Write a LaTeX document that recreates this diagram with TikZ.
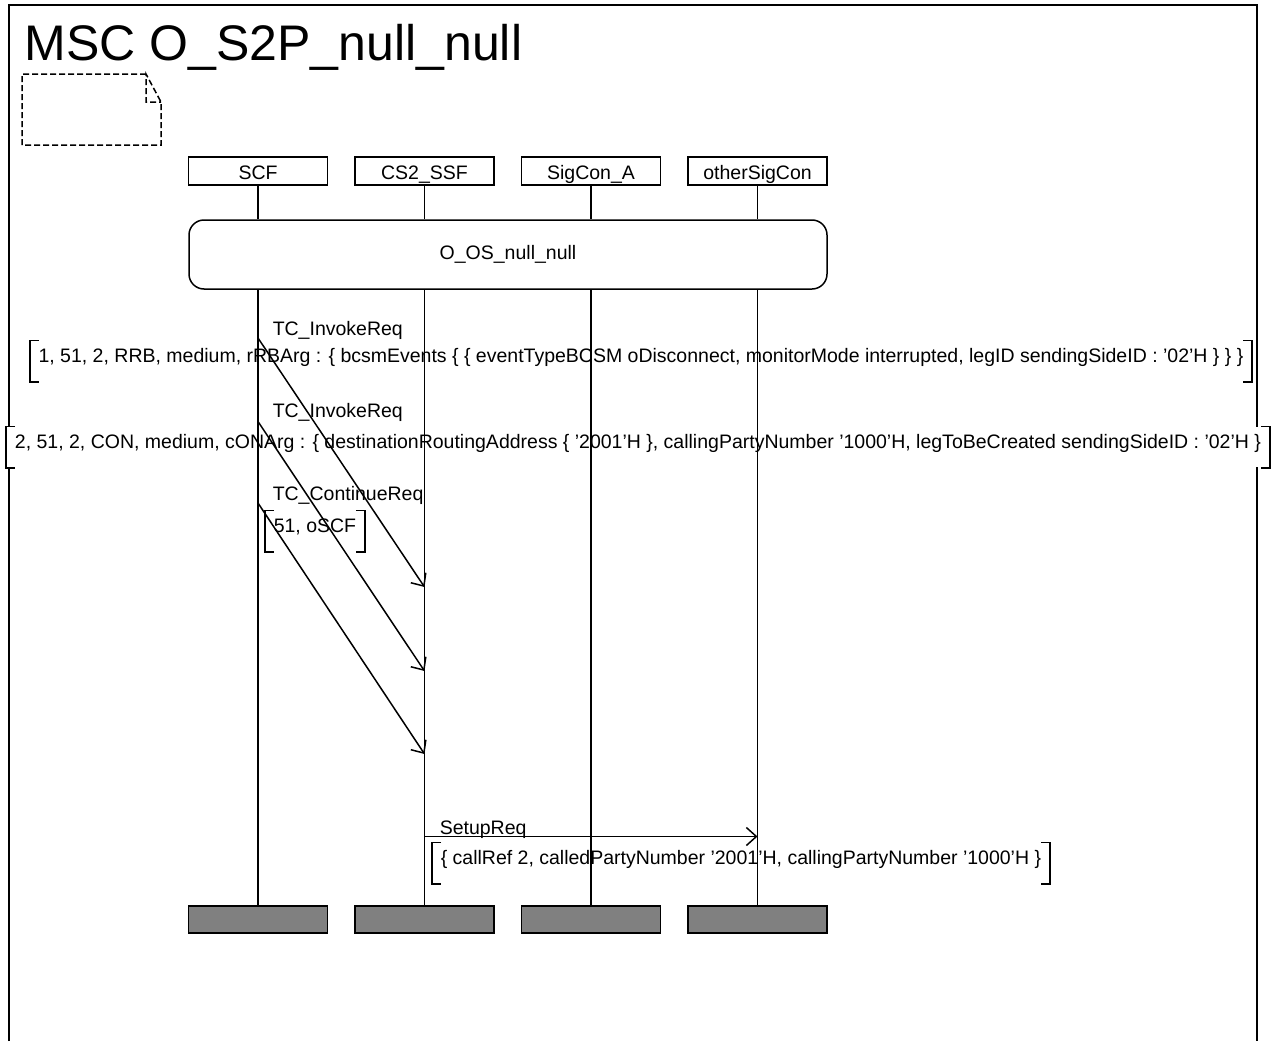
\documentclass[tikz,border=0pt]{standalone}
\usepackage{fontspec}
\setmainfont{Liberation Sans}
\usetikzlibrary{arrows.meta}

\tikzset{
  inst/.style={draw, minimum width=139pt, minimum height=28pt, inner sep=0pt,
    text height=18pt, text depth=1pt},
  instend/.style={inst, fill=gray, minimum height=27pt},
  msglabel/.style={anchor=base west, inner sep=0pt},
  msgparam/.style={anchor=base, fill=white, inner xsep=8pt, inner ysep=0pt,
    text height=21pt, text depth=19pt},
  msgarrow/.style={-{Straight Barb[length=10pt,width=18pt]}},
}

\newcommand{\parambrackets}[1]{%
  \draw ([xshift=9pt]#1.north west) -- (#1.north west) -- (#1.south west) -- ++(9pt,0);
  \draw ([xshift=-9pt]#1.north east) -- (#1.north east) -- (#1.south east) -- ++(-9pt,0);}

\begin{document}
\begin{tikzpicture}[x=1pt, y=-1pt, line width=1.5pt,
    font=\fontsize{19.5}{23}\selectfont]
    \def\headY{171}
    \def\footY{919.5}
    \useasboundingbox (0,0) rectangle (1273,1041);

    \draw (9,1041) -- (9,5) -- (1257,5) -- (1257,1041);

    \node[anchor=base west, inner sep=0pt, font=\fontsize{50}{60}\selectfont]
    (title) at (24,60) {MSC O\_S2P\_null\_null};

    \draw[dash pattern=on 6pt off 3pt] (146,74) -- (22,74) -- (22,145)
    -- (161,145) -- (161,102) -- (146,74) -- (146,102) -- (161,102);

    \foreach \name/\txt/\x in {scf/SCF/258, ssf/CS2\_SSF/424.5,
      siga/SigCon\_A/591, other/otherSigCon/757.5} {
      \node[inst] (\name) at (\x,\headY) {\txt};
      \node[instend] (\name-end) at (\x,\footY) {};
    }

    \node[draw, rounded corners=15pt, minimum width=638pt, minimum height=69pt]
    (ref) at (508,254.5) {O\_OS\_null\_null};

    \node[msglabel] (l1) at (272,335) {TC\_InvokeReq};
    \node[msgparam] (p1) at (641,362) {1, 51, 2, RRB, medium, rRBArg : \{ bcsmEvents \{ \{ eventTypeBCSM oDisconnect, monitorMode interrupted, legID sendingSideID : '02'H \} \} \}};

    \node[msglabel] (l2) at (272,417) {TC\_InvokeReq};
    \node[msgparam] (p2) at (638,448) {2, 51, 2, CON, medium, cONArg : \{ destinationRoutingAddress \{ '2001'H \}, callingPartyNumber '1000'H, legToBeCreated sendingSideID : '02'H \}};

    \node[msglabel] (l3) at (272,500) {TC\_ContinueReq};
    \node[msgparam, anchor=base west] (p3) at (265,532) {51, oSCF};

    \node[msglabel] (l4) at (439,834) {SetupReq};
    \node[msgparam, anchor=base west] (p4) at (432,864) {\{ callRef 2, calledPartyNumber '2001'H, callingPartyNumber '1000'H \}};

    \foreach \name in {scf, ssf, siga, other} {
      \draw (\name.south) -- (\name.south |- ref.north);
      \draw (\name.south |- ref.south) -- (\name-end.north);
    }

    \coordinate (m1a) at (scf |- 0,338);
    \coordinate (m1b) at (ssf |- 0,587);
    \coordinate (m2a) at (scf |- 0,421.5);
    \coordinate (m2b) at (ssf |- 0,671);
    \coordinate (m3a) at (scf |- 0,503);
    \coordinate (m3b) at (ssf |- 0,754);
    \coordinate (m4a) at (ssf |- 0,836.5);
    \coordinate (m4b) at (other |- 0,836.5);

    \draw[msgarrow] (m1a) -- (m1b);
    \draw[msgarrow] (m2a) -- (m2b);
    \draw[msgarrow] (m3a) -- (m3b);
    \draw[msgarrow] (m4a) -- (m4b);

    \parambrackets{p1}
    \parambrackets{p2}
    \parambrackets{p3}
    \parambrackets{p4}
  \end{tikzpicture}
\end{document}
